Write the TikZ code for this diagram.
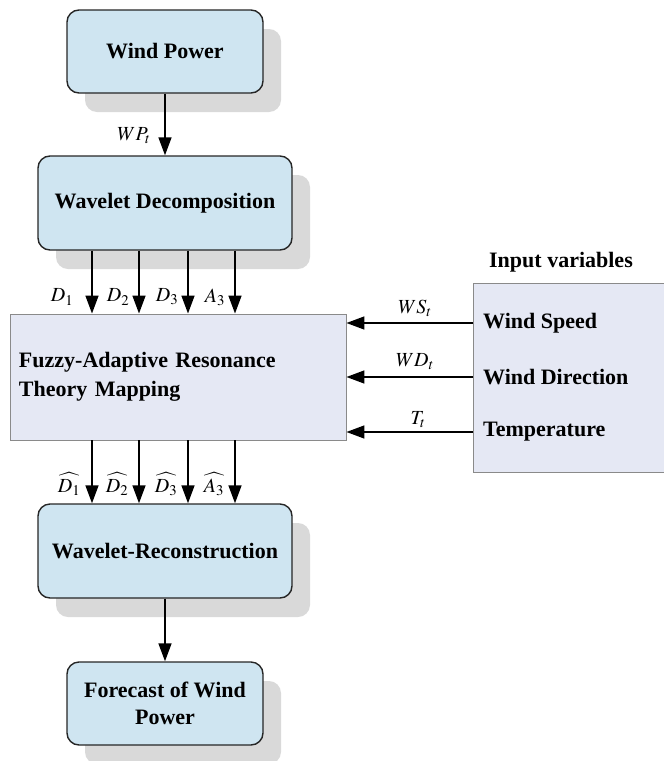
\documentclass[tikz,border=0pt]{standalone}
\usepackage{mathptmx}
\usepackage{fontspec}
\setmainfont{Liberation Serif}
\usetikzlibrary{arrows.meta,shadows}
\definecolor{boxblue}{HTML}{CFE5F1}
\definecolor{boxlav}{HTML}{E5E8F4}
\definecolor{shadowgray}{HTML}{D9D9D9}
\definecolor{lavborder}{HTML}{8A8A8A}
\begin{document}
\begin{tikzpicture}[x=1pt,y=-1pt,
  bluebox/.style={draw=black!85, line width=1.4pt, fill=boxblue, rounded corners=12pt,
    drop shadow={shadow xshift=18pt, shadow yshift=-19pt, fill=shadowgray, opacity=1, draw=none},
    font=\fontsize{22}{27}\selectfont\bfseries, align=center, inner sep=0pt},
  lavbox/.style={draw=lavborder, line width=0.9pt, fill=boxlav, inner sep=0pt},
  txt/.style={font=\fontsize{22}{29}\selectfont\bfseries, inner sep=0pt},
  lab/.style={font=\fontsize{20}{24}\selectfont, inner sep=0pt},
  arr/.style={line width=1.5pt, -{Triangle[length=18pt,width=13pt]}}
]
\useasboundingbox (0,0) rectangle (664,761);

% boxes
\node[bluebox, minimum width=196pt, minimum height=83pt] (wp) at (165,51.5) {Wind Power};
\node[bluebox, minimum width=254pt, minimum height=94pt] (wd) at (165,203) {Wavelet Decomposition};
\node[lavbox, minimum width=336pt, minimum height=126pt, text width=318pt, align=left,
      font=\fontsize{22}{29}\selectfont\bfseries] (fz) at (178,377) {Fuzzy-Adaptive Resonance\\Theory Mapping};
\node[bluebox, minimum width=254pt, minimum height=94pt] (wr) at (165,551) {Wavelet-Reconstruction};
\node[bluebox, minimum width=196pt, minimum height=83pt] (fc) at (165,703.5) {Forecast of Wind\\Power};

% input variables box
\node[lavbox, minimum width=200pt, minimum height=189pt, anchor=north west] (rb) at (473,283) {};
\node[txt] (iv) at (561,262) {Input variables};
\node[txt, anchor=west] (ws) at (483,323) {Wind Speed};
\node[txt, anchor=west] (wdir) at (483,377) {Wind Direction};
\node[txt, anchor=west] (tp) at (483,432) {Temperature};

% column coordinates
\coordinate (c1) at (92,0);
\coordinate (c2) at (139,0);
\coordinate (c3) at (188,0);
\coordinate (c4) at (235,0);

% arrows
\draw[arr] (wp) -- (wd);
\node[lab] (lwp) at (134,136) {$WP_t$};

\draw[arr] (wd.south -| c1) -- (fz.north -| c1);
\draw[arr] (wd.south -| c2) -- (fz.north -| c2);
\draw[arr] (wd.south -| c3) -- (fz.north -| c3);
\draw[arr] (wd.south -| c4) -- (fz.north -| c4);
\node[lab] (ld1) at (62,297) {$D_1$};
\node[lab] (ld2) at (118,297) {$D_2$};
\node[lab] (ld3) at (167,297) {$D_3$};
\node[lab] (la3) at (215,297) {$A_3$};

\draw[arr] (fz.south -| c1) -- (wr.north -| c1);
\draw[arr] (fz.south -| c2) -- (wr.north -| c2);
\draw[arr] (fz.south -| c3) -- (wr.north -| c3);
\draw[arr] (fz.south -| c4) -- (wr.north -| c4);
\node[lab] (lh1) at (69,484) {$\widehat{D_1}$};
\node[lab] (lh2) at (117,484) {$\widehat{D_2}$};
\node[lab] (lh3) at (166,484) {$\widehat{D_3}$};
\node[lab] (lh4) at (214,484) {$\widehat{A_3}$};

\draw[arr] (ws.west -| rb.west) -- (ws.west -| fz.east);
\draw[arr] (wdir.west -| rb.west) -- (wdir.west -| fz.east);
\draw[arr] (tp.west -| rb.west) -- (tp.west -| fz.east);
\node[lab] (lws) at (415,308) {$WS_t$};
\node[lab] (lwd) at (415,362) {$WD_t$};
\node[lab] (ltt) at (418,420) {$T_t$};

\draw[arr] (wr) -- (fc);
\end{tikzpicture}
\end{document}
